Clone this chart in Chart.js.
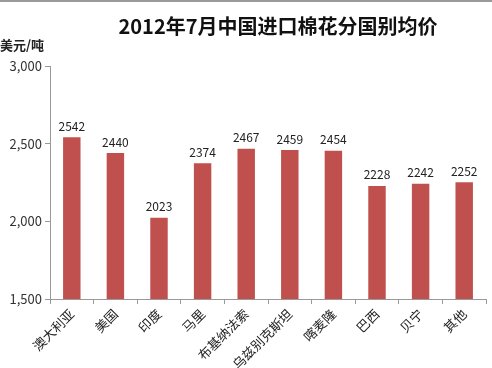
<!DOCTYPE html>
<html>
<head>
<meta charset="utf-8">
<script src="https://cdn.jsdelivr.net/npm/chart.js@4/dist/chart.umd.min.js"></script>
<style>
  html, body { margin: 0; padding: 0; background: #fff; }
  #wrap { width: 492px; height: 366px; border-top: 2px solid #9a9a9a; }
</style>
</head>
<body>
<div id="wrap"><canvas id="myChart" width="492" height="366"></canvas></div>
<script>
const paises = ['澳大利亚', '美国', '印度', '马里', '布基纳法索', '乌兹别克斯坦', '喀麦隆', '巴西', '贝宁', '其他']
const precios = [2542, 2440, 2023, 2374, 2467, 2459, 2454, 2228, 2242, 2252]
const titulo = '2012年7月中国进口棉花分国别均价'
const unidad = '美元/吨'

const CJK = '"Noto Sans CJK SC", "Noto Sans", sans-serif'

// titulo, unidad y etiquetas encima de cada barra
const etiquetas = {
    id: 'etiquetas',
    afterDatasetsDraw(chart) {
        const c = chart.ctx
        c.save()
        c.font = '12px ' + CJK
        c.fillStyle = '#222'
        c.textAlign = 'center'
        c.textBaseline = 'bottom'
        chart.getDatasetMeta(0).data.forEach((bar, i) => {
            c.fillText(precios[i], bar.x, bar.y - 5)
        })
        c.font = 'bold 13px ' + CJK
        c.textAlign = 'left'
        c.textBaseline = 'middle'
        c.fillText(unidad, 0, 43)
        c.font = 'bold 20px ' + CJK
        c.textAlign = 'center'
        c.fillStyle = '#111'
        c.fillText(titulo, 278, 24)
        c.restore()
    }
}

var ctx = document.getElementById('myChart')
var myChart = new Chart(ctx, {
    type: 'bar',
    data: {
        labels: paises,
        datasets: [{
            data: precios,
            backgroundColor: '#C0504D',
            barPercentage: 0.4,
            categoryPercentage: 1
        }]
    },
    options: {
        responsive: false,
        animation: false,
        layout: { padding: { left: 0, right: 6, top: 64, bottom: 0 } },
        plugins: {
            legend: { display: false },
            tooltip: { enabled: false },
            title: { display: false }
        },
        scales: {
            y: {
                min: 1500,
                max: 3000,
                afterFit: (s) => { s.width = 50 },
                ticks: {
                    stepSize: 500,
                    color: '#333',
                    font: { size: 13, family: CJK },
                    callback: (v) => v.toLocaleString('en-US')
                },
                grid: { drawOnChartArea: false, tickLength: 5, color: '#999' },
                border: { color: '#999' }
            },
            x: {
                afterFit: (s) => { s.height = 69 },
                ticks: {
                    color: '#222',
                    font: { size: 13, family: CJK },
                    maxRotation: 45,
                    minRotation: 45,
                    padding: 2
                },
                grid: { drawOnChartArea: false, offset: true, tickLength: 5, color: '#999' },
                border: { color: '#999' }
            }
        }
    },
    plugins: [etiquetas]
})
</script>
</body>
</html>
